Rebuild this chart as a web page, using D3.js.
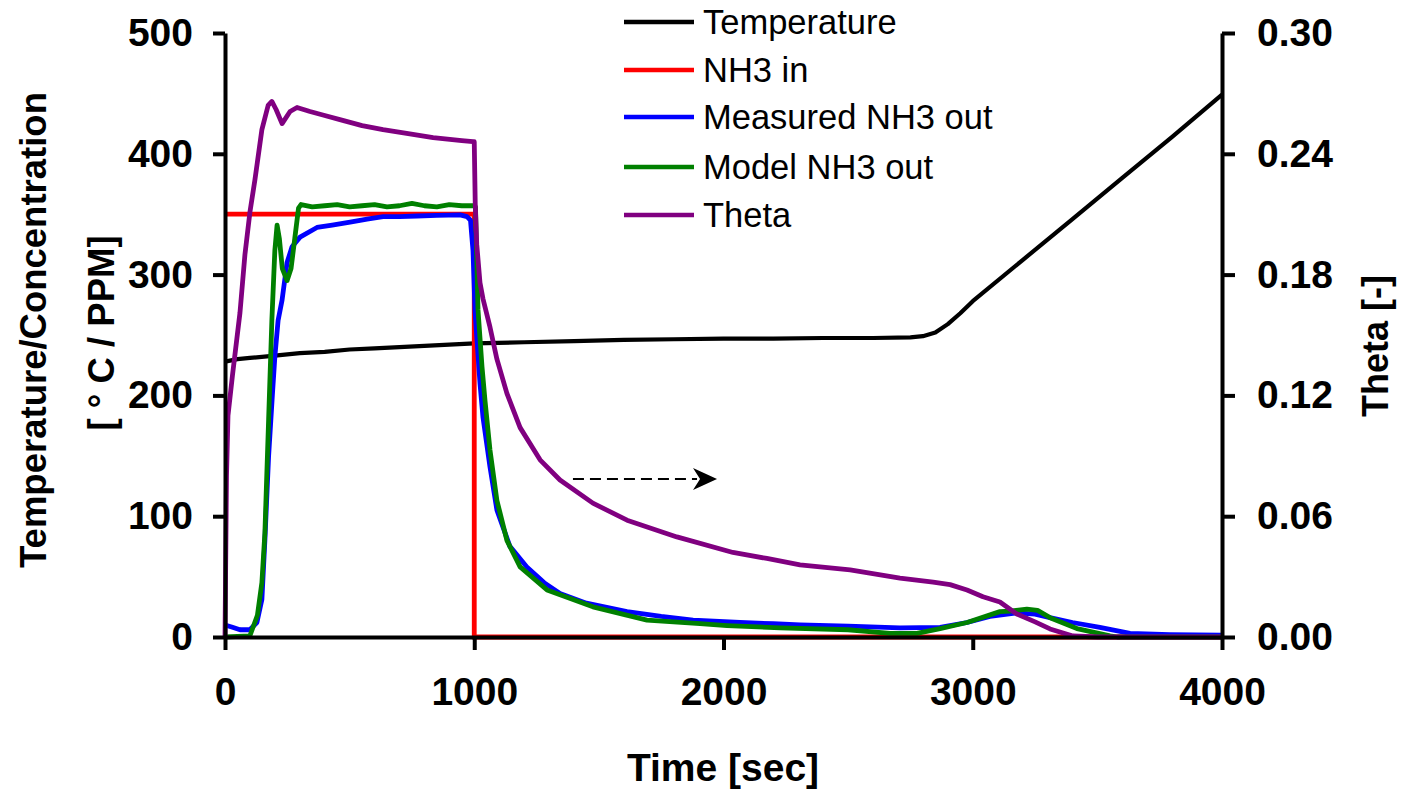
<!DOCTYPE html>
<html>
<head>
<meta charset="utf-8">
<script src="https://cdn.jsdelivr.net/npm/d3@7"></script>
<style>
  html, body { margin: 0; padding: 0; background: #fff; }
  svg { display: block; }
  text { font-family: Arial, "Liberation Sans", sans-serif; fill: #000; }
</style>
</head>
<body>
<svg id="chart" width="1401" height="792"></svg>
<script>
// ---------- data ----------
const xTicks = [0, 1000, 2000, 3000, 4000];
const yLeftTicks = [0, 100, 200, 300, 400, 500];
const yRightTicks = [0, 0.06, 0.12, 0.18, 0.24, 0.30];

const tempTime = [0, 50, 100, 200, 300, 400, 500, 600, 700, 800, 900, 1000, 1200, 1400, 1600, 1800, 2000, 2200, 2400, 2600, 2750, 2800, 2850, 2900, 2950, 3000, 3200, 3400, 3600, 3800, 4000];
const tempVal  = [228, 230, 231, 233, 235, 236, 238, 239, 240, 241, 242, 243, 244, 245, 246, 246.5, 247, 247, 247.5, 247.5, 248, 249, 252, 259, 268, 278, 312, 346, 380, 414, 449];

const nh3InTime = [0, 1000, 1000, 4000];
const nh3InVal  = [350, 350, 0, 0];

const measTime = [0, 30, 60, 100, 128, 148, 160, 175, 190, 200, 213, 229, 249, 269, 301, 369, 430, 502, 570, 634, 700, 770, 850, 943, 971, 985, 995, 1003, 1023, 1035, 1063, 1091, 1143, 1211, 1280, 1344, 1450, 1613, 1750, 1878, 2066, 2200, 2307, 2500, 2708, 2869, 2977, 3069, 3177, 3250, 3310, 3400, 3510, 3631, 3791, 4000];
const measVal  = [10, 8, 6, 6, 12, 31, 80, 150, 200, 232, 262, 279, 310, 323, 331, 339, 341, 343.5, 346, 348, 348, 348.5, 349, 349.5, 348, 345, 320, 270, 210, 182, 141, 105, 75, 58, 45, 36, 28, 21, 17, 14, 12, 11, 10, 9, 7.5, 8, 12, 17, 20, 19, 16, 12, 8, 3, 2, 1.5];

const modelTime = [0, 100, 130, 148, 160, 175, 188, 200, 209, 218, 230, 249, 265, 280, 295, 305, 350, 400, 450, 500, 550, 600, 650, 700, 750, 800, 850, 900, 950, 1000, 1005, 1015, 1031, 1043, 1063, 1091, 1131, 1184, 1292, 1476, 1693, 1906, 2014, 2227, 2500, 2668, 2776, 2869, 2977, 3109, 3149, 3217, 3260, 3310, 3418, 3551, 3580, 4000];
const modelVal  = [0, 1, 18, 45, 86, 180, 262, 320, 341, 330, 305, 295, 305, 330, 355, 358, 356, 357, 358, 356, 357, 358, 356, 357, 359, 357, 356, 358, 357, 357, 356, 271, 224, 196, 155, 113, 80, 58, 39, 25, 14, 11, 9.5, 7.5, 6, 3, 3, 7, 12, 21, 21.5, 23, 22, 16, 7, 1, 0, 0];

const thetaTime = [0, 3, 6, 12, 30, 60, 80, 100, 120, 148, 173, 188, 205, 229, 261, 289, 341, 400, 461, 550, 634, 735, 835, 950, 995, 1000, 1004, 1010, 1023, 1035, 1063, 1091, 1131, 1184, 1264, 1344, 1476, 1613, 1813, 2038, 2174, 2307, 2508, 2708, 2841, 2909, 2977, 3041, 3109, 3177, 3250, 3310, 3402, 3500, 4000];
const thetaVal  = [0, 0.04, 0.08, 0.11, 0.13, 0.161, 0.19, 0.211, 0.227, 0.252, 0.264, 0.266, 0.262, 0.255, 0.261, 0.263, 0.261, 0.259, 0.257, 0.254, 0.252, 0.25, 0.248, 0.2465, 0.246, 0.246, 0.215, 0.195, 0.176, 0.168, 0.154, 0.138, 0.121, 0.104, 0.088, 0.078, 0.0665, 0.058, 0.0497, 0.042, 0.039, 0.0358, 0.0333, 0.0293, 0.0273, 0.026, 0.0233, 0.020, 0.0174, 0.0114, 0.0075, 0.004, 0.0005, 0, 0];

const arrowTime = [1396, 1974];
const arrowVal  = [130.8, 130.8];

const seriesNames  = ["Temperature", "NH3 in", "Measured NH3 out", "Model NH3 out", "Theta"];
const seriesColors = ["#000000", "#ff0000", "#0000ff", "#008000", "#800080"];

// ---------- layout ----------
const svg = d3.select("#chart");
const x = d3.scaleLinear().domain([0, 4000]).range([225, 1222]);
const yL = d3.scaleLinear().domain([0, 500]).range([637, 33]);
const yR = d3.scaleLinear().domain([0, 0.30]).range([637, 33]);

const zip = (t, v) => t.map((d, i) => [d, v[i]]);
const lineL = d3.line().x(d => x(d[0])).y(d => yL(d[1]));
const lineR = d3.line().x(d => x(d[0])).y(d => yR(d[1]));

// ---------- series ----------
const plot = svg.append("g");
const sw = 4.8;
plot.append("path").datum(zip(tempTime, tempVal)).attr("d", lineL)
  .attr("fill", "none").attr("stroke", seriesColors[0]).attr("stroke-width", 4.2).attr("stroke-linejoin", "round");
plot.append("path").datum(zip(nh3InTime, nh3InVal)).attr("d", lineL)
  .attr("fill", "none").attr("stroke", seriesColors[1]).attr("stroke-width", sw);
plot.append("path").datum(zip(measTime, measVal)).attr("d", lineL)
  .attr("fill", "none").attr("stroke", seriesColors[2]).attr("stroke-width", sw).attr("stroke-linejoin", "round");
plot.append("path").datum(zip(modelTime, modelVal)).attr("d", lineL)
  .attr("fill", "none").attr("stroke", seriesColors[3]).attr("stroke-width", sw).attr("stroke-linejoin", "round");
plot.append("path").datum(zip(thetaTime, thetaVal)).attr("d", lineR)
  .attr("fill", "none").attr("stroke", seriesColors[4]).attr("stroke-width", sw).attr("stroke-linejoin", "round");

// arrow annotation
const ax0 = x(arrowTime[0]), ax1 = x(arrowTime[1]), ay = yL(arrowVal[0]);
plot.append("line").attr("x1", ax0).attr("x2", ax1 - 20).attr("y1", ay).attr("y2", ay)
  .attr("stroke", "#000").attr("stroke-width", 2.2).attr("stroke-dasharray", "11,6");
plot.append("path").attr("d", `M${ax1},${ay} L${ax1 - 24},${ay - 11} L${ax1 - 17},${ay} L${ax1 - 24},${ay + 11} Z`)
  .attr("fill", "#000");

// ---------- axes ----------
const fmtR = d3.format(".2f");
const gL = svg.append("g").attr("transform", "translate(225,0)")
  .call(d3.axisLeft(yL).tickValues(yLeftTicks).tickSizeInner(12).tickSizeOuter(0).tickPadding(20));
const gR = svg.append("g").attr("transform", "translate(1222,0)")
  .call(d3.axisRight(yR).tickValues(yRightTicks).tickFormat(fmtR).tickSizeInner(13).tickSizeOuter(0).tickPadding(22));
const gB = svg.append("g").attr("transform", "translate(0,637)")
  .call(d3.axisBottom(x).tickValues(xTicks).tickFormat(d3.format("d")).tickSizeInner(13).tickSizeOuter(0).tickPadding(18));

[gL, gR, gB].forEach(g => {
  g.select(".domain").attr("stroke", "#000").attr("stroke-width", 4);
  g.selectAll(".tick line").attr("stroke", "#000").attr("stroke-width", 4);
  g.selectAll(".tick text").attr("font-family", "Arial, 'Liberation Sans', sans-serif")
    .attr("font-weight", "bold").attr("font-size", 39).attr("fill", "#000");
});
gB.selectAll(".tick text").attr("dy", "0.95em");

// axis titles
svg.append("text").attr("x", 723).attr("y", 781).attr("text-anchor", "middle")
  .attr("font-weight", "bold").attr("font-size", 39).text("Time [sec]");
svg.append("text").attr("transform", "translate(46,330) rotate(-90)").attr("text-anchor", "middle")
  .attr("font-weight", "bold").attr("font-size", 36.5).text("Temperature/Concentration");
svg.append("text").attr("transform", "translate(114,333) rotate(-90)").attr("text-anchor", "middle")
  .attr("font-weight", "bold").attr("font-size", 36.5).text("[ ° C / PPM]");
svg.append("text").attr("transform", "translate(1388,346) rotate(-90)").attr("text-anchor", "middle")
  .attr("font-weight", "bold").attr("font-size", 36).text("Theta [-]");

// ---------- legend ----------
const legY = [22, 70, 117, 167, 215];
const leg = svg.append("g");
seriesNames.forEach((n, i) => {
  leg.append("line").attr("x1", 624).attr("x2", 694).attr("y1", legY[i]).attr("y2", legY[i])
    .attr("stroke", seriesColors[i]).attr("stroke-width", 4.5);
  leg.append("text").attr("x", 703).attr("y", legY[i]).attr("dy", "0.36em")
    .attr("font-size", 34.5).text(n);
});
</script>
</body>
</html>
